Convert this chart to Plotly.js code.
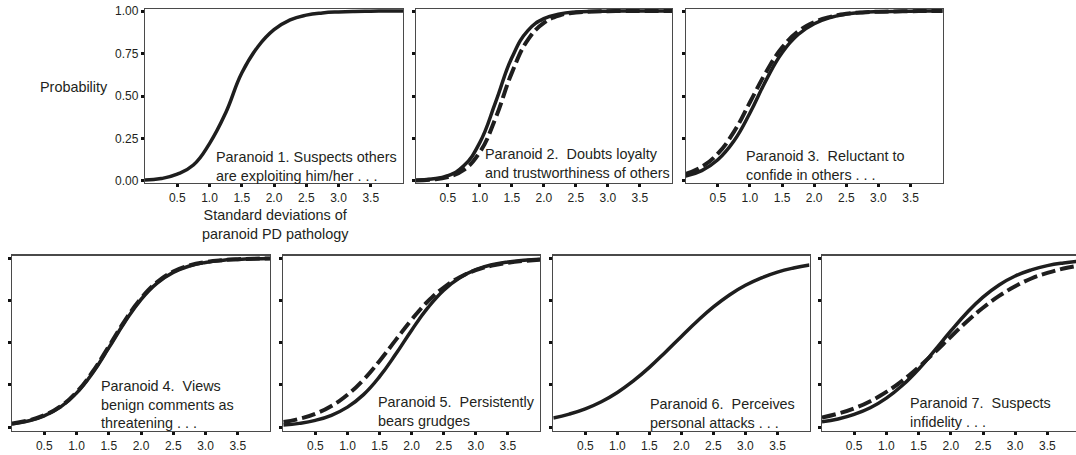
<!DOCTYPE html>
<html>
<head>
<meta charset="utf-8">
<script src="https://cdn.plot.ly/plotly-3.0.1.min.js"></script>
<style>html,body{margin:0;padding:0;background:#fff;}#chart{width:1076px;height:455px;}</style>
</head>
<body>
<div id="chart"></div>
<script>
// ---- data ----
const sdX = [0, 0.25, 0.5, 0.75, 1.0, 1.25, 1.5, 1.75, 2.0, 2.25, 2.5, 2.75, 3.0, 3.25, 3.5, 3.75, 4.0];

const p1Solid = [0.005, 0.014, 0.040, 0.094, 0.22, 0.40, 0.635, 0.79, 0.89, 0.948, 0.976, 0.989, 0.995, 0.998, 0.999, 1.0, 1.0];

const p2Solid = [0.004, 0.011, 0.031, 0.089, 0.226, 0.467, 0.725, 0.885, 0.955, 0.983, 0.994, 0.998, 0.999, 1.0, 1.0, 1.0, 1.0];
const p2Dash  = [0.003, 0.008, 0.023, 0.065, 0.169, 0.373, 0.636, 0.830, 0.930, 0.975, 0.991, 0.997, 0.999, 1.0, 1.0, 1.0, 1.0];

const p3Solid = [0.029, 0.061, 0.125, 0.235, 0.40, 0.592, 0.755, 0.862, 0.925, 0.962, 0.982, 0.992, 0.996, 0.998, 0.999, 1.0, 1.0];
const p3Dash  = [0.041, 0.083, 0.161, 0.289, 0.463, 0.640, 0.785, 0.880, 0.935, 0.966, 0.984, 0.992, 0.996, 0.998, 0.999, 1.0, 1.0];

const p4Solid = [0.020, 0.037, 0.068, 0.119, 0.202, 0.321, 0.469, 0.622, 0.755, 0.852, 0.915, 0.953, 0.974, 0.986, 0.992, 0.996, 0.998];
const p4Dash  = [0.022, 0.040, 0.071, 0.123, 0.207, 0.328, 0.477, 0.630, 0.762, 0.858, 0.920, 0.956, 0.976, 0.987, 0.993, 0.996, 0.998];

const p5Solid = [0.013, 0.023, 0.041, 0.071, 0.119, 0.193, 0.299, 0.431, 0.574, 0.705, 0.810, 0.883, 0.931, 0.960, 0.977, 0.987, 0.993];
const p5Dash  = [0.031, 0.050, 0.080, 0.126, 0.192, 0.281, 0.392, 0.515, 0.636, 0.743, 0.826, 0.887, 0.928, 0.955, 0.972, 0.983, 0.990];

const p6Solid = [0.055, 0.078, 0.109, 0.151, 0.206, 0.274, 0.354, 0.444, 0.537, 0.628, 0.711, 0.782, 0.839, 0.883, 0.917, 0.941, 0.959];

const p7Solid = [0.032, 0.049, 0.076, 0.115, 0.172, 0.248, 0.343, 0.454, 0.569, 0.677, 0.769, 0.841, 0.894, 0.930, 0.955, 0.971, 0.982];
const p7Dash  = [0.057, 0.081, 0.112, 0.154, 0.209, 0.276, 0.355, 0.443, 0.535, 0.625, 0.706, 0.776, 0.833, 0.879, 0.912, 0.938, 0.956];

const xTickVals = [0.5, 1.0, 1.5, 2.0, 2.5, 3.0, 3.5];
const xTickText = ["0.5", "1.0", "1.5", "2.0", "2.5", "3.0", "3.5"];
const yTickVals = [0, 0.25, 0.5, 0.75, 1.0];
const yTickText = ["0.00", "0.25", "0.50", "0.75", "1.00"];

const panelLabels = [
  "Paranoid 1. Suspects others<br>are exploiting him/her . . .",
  "Paranoid 2.  Doubts loyalty<br>and trustworthiness of others",
  "Paranoid 3.  Reluctant to<br>confide in others . . .",
  "Paranoid 4.  Views<br>benign comments as<br>threatening . . .",
  "Paranoid 5.  Persistently<br>bears grudges",
  "Paranoid 6.  Perceives<br>personal attacks . . .",
  "Paranoid 7.  Suspects<br>infidelity . . ."
];
const yAxisLabel = "Probability";
const xAxisLabel = "Standard deviations of<br>paranoid PD pathology";

// ---- layout geometry (pixels) ----
const W = 1076, H = 455;
const fx = p => p / W;
const fy = p => 1 - p / H;

const panels = [
  {x0: 145,   x1: 403,   y0: 9,     y1: 183, yr: [-0.012, 1.012], xr: [0, 4], solid: p1Solid, dash: null,    lab: [214, 166]},
  {x0: 415.7, x1: 672,   y0: 9,     y1: 183, yr: [-0.012, 1.012], xr: [0, 4], solid: p2Solid, dash: p2Dash,  lab: [483, 163.5]},
  {x0: 685.7, x1: 942.7, y0: 9,     y1: 183, yr: [-0.012, 1.012], xr: [0, 4], solid: p3Solid, dash: p3Dash,  lab: [744, 165.5]},
  {x0: 12,    x1: 270,   y0: 255.5, y1: 431, yr: [-0.022, 1.015], xr: [0, 4], solid: p4Solid, dash: p4Dash,  lab: [98.7, 404]},
  {x0: 283.3, x1: 540,   y0: 255.5, y1: 431, yr: [-0.022, 1.015], xr: [0, 4], solid: p5Solid, dash: p5Dash,  lab: [375.7, 411.3]},
  {x0: 553.3, x1: 809.5, y0: 255.5, y1: 431, yr: [-0.022, 1.015], xr: [0, 4], solid: p6Solid, dash: null,    lab: [648, 413.3]},
  {x0: 822,   x1: 1076,  y0: 255.5, y1: 431, yr: [-0.022, 1.015], xr: [0, 3.944], solid: p7Solid, dash: p7Dash, lab: [908, 412.5]}
];

const textFont = {family: "Liberation Sans, Arial, sans-serif", size: 14.4, color: "#231f20"};
const tickFont = {family: "Liberation Sans, Arial, sans-serif", size: 12, color: "#231f20"};

const traces = [];
const layout = {
  width: W, height: H,
  margin: {l: 0, r: 0, t: 0, b: 0},
  paper_bgcolor: "#fff", plot_bgcolor: "#fff",
  showlegend: false,
  annotations: [],
};

panels.forEach((p, i) => {
  const n = i + 1;
  const xa = n === 1 ? "x" : "x" + n;
  const ya = n === 1 ? "y" : "y" + n;
  const xk = n === 1 ? "xaxis" : "xaxis" + n;
  const yk = n === 1 ? "yaxis" : "yaxis" + n;
  traces.push({
    x: sdX, y: p.solid, xaxis: xa, yaxis: ya, type: "scatter", mode: "lines",
    line: {color: "#1e1e1e", width: 3.5, shape: "spline", smoothing: 1.3},
    hoverinfo: "skip"
  });
  if (p.dash) {
    traces.push({
      x: sdX, y: p.dash, xaxis: xa, yaxis: ya, type: "scatter", mode: "lines",
      line: {color: "#1e1e1e", width: 4, dash: "14px,5px", shape: "spline", smoothing: 1.3},
      hoverinfo: "skip"
    });
  }
  layout[xk] = {
    domain: [fx(p.x0), fx(p.x1)], anchor: ya, range: p.xr,
    showgrid: false, zeroline: false,
    showline: true, mirror: true, linecolor: "#4a4a4a", linewidth: 1.2,
    ticks: "outside", ticklen: 3, tickwidth: 3, tickcolor: "#111",
    tickvals: xTickVals, ticktext: xTickText, tickfont: tickFont,
    fixedrange: true
  };
  layout[yk] = {
    domain: [fy(p.y1), fy(p.y0)], anchor: xa, range: p.yr,
    showgrid: false, zeroline: false,
    showline: true, mirror: n !== 7, linecolor: "#4a4a4a", linewidth: 1.2,
    ticks: "outside", ticklen: 3, tickwidth: 3, tickcolor: "#111",
    tickvals: yTickVals, ticktext: yTickText, tickfont: tickFont,
    showticklabels: n === 1,
    fixedrange: true
  };
  layout.annotations.push({
    xref: "paper", yref: "paper", x: fx(p.lab[0]), y: fy(p.lab[1]),
    xanchor: "left", yanchor: "middle", align: "left",
    text: panelLabels[i], showarrow: false, font: textFont
  });
});

layout.annotations.push({
  xref: "paper", yref: "paper", x: fx(110), y: fy(87),
  xanchor: "right", yanchor: "middle", text: yAxisLabel, showarrow: false, font: textFont
});
layout.annotations.push({
  xref: "paper", yref: "paper", x: fx(275), y: fy(224.5),
  xanchor: "center", yanchor: "middle", align: "center", text: xAxisLabel, showarrow: false, font: textFont
});

Plotly.newPlot("chart", traces, layout, {staticPlot: true, displayModeBar: false});
</script>
</body>
</html>
